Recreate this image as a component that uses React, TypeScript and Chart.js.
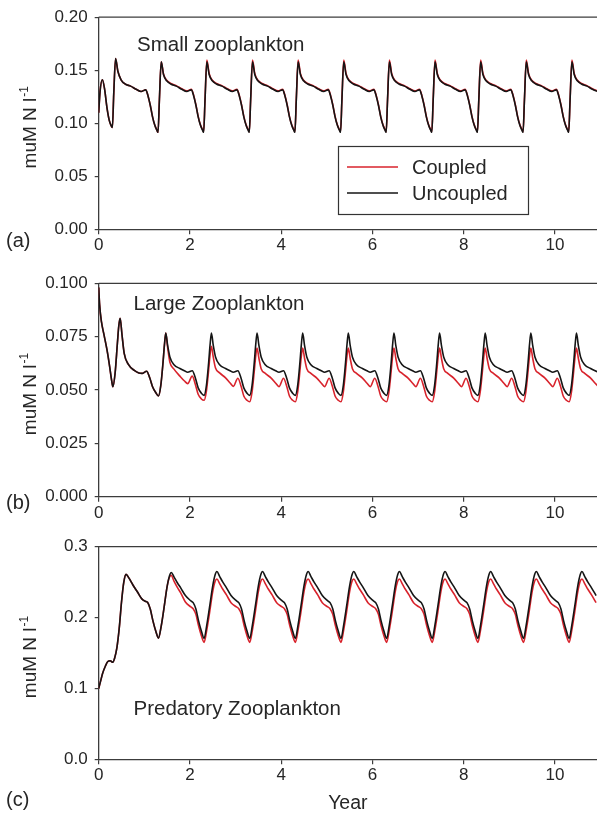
import React, { useEffect, useRef } from 'react';
import { Chart, registerables } from 'chart.js';

Chart.register(...registerables);

const FONT = "'Liberation Sans', Arial, Helvetica, sans-serif";
const RED = '#d8232c';
const BLACK = '#151515';
const AXIS = '#3c3c3c';
const TEXT = '#262626';

// ---------- labels ----------
const xTicks = [0, 2, 4, 6, 8, 10];
const xLabels = ['0', '2', '4', '6', '8', '10'];
const X_MAX = 10.92;
const yTicksA = [0, 0.05, 0.1, 0.15, 0.2];
const yLabelsA = ['0.00', '0.05', '0.10', '0.15', '0.20'];
const yTicksB = [0, 0.025, 0.05, 0.075, 0.1];
const yLabelsB = ['0.000', '0.025', '0.050', '0.075', '0.100'];
const yTicksC = [0, 0.1, 0.2, 0.3];
const yLabelsC = ['0.0', '0.1', '0.2', '0.3'];
const seriesNames = ['Coupled', 'Uncoupled'];
const panelTitles = ['Small zooplankton', 'Large Zooplankton', 'Predatory Zooplankton'];
const panelLetters = ['(a)', '(b)', '(c)'];
const xTitle = 'Year';
const yTitleMain = 'muM N l';
const yTitleSup = '-1';

// ---------- (a) small zooplankton ----------
const tSmall = [
  0, 0.03, 0.08, 0.13, 0.18, 0.23, 0.27, 0.30, 0.33, 0.37, 0.42, 0.49, 0.58, 0.70, 0.82, 0.93,
  1.03, 1.08, 1.13, 1.18, 1.23, 1.27, 1.30, 1.33, 1.37, 1.42, 1.49, 1.58, 1.70, 1.82, 1.93,
  2.03, 2.08, 2.13, 2.18, 2.23, 2.27, 2.30, 2.33, 2.37, 2.42, 2.49, 2.58, 2.70, 2.82, 2.93,
  3.03, 3.08, 3.13, 3.18, 3.23, 3.27, 3.30, 3.33, 3.37, 3.42, 3.49, 3.58, 3.70, 3.82, 3.93,
  4.03, 4.08, 4.13, 4.18, 4.23, 4.27, 4.30, 4.33, 4.37, 4.42, 4.49, 4.58, 4.70, 4.82, 4.93,
  5.03, 5.08, 5.13, 5.18, 5.23, 5.27, 5.30, 5.33, 5.37, 5.42, 5.49, 5.58, 5.70, 5.82, 5.93,
  6.03, 6.08, 6.13, 6.18, 6.23, 6.27, 6.30, 6.33, 6.37, 6.42, 6.49, 6.58, 6.70, 6.82, 6.93,
  7.03, 7.08, 7.13, 7.18, 7.23, 7.27, 7.30, 7.33, 7.37, 7.42, 7.49, 7.58, 7.70, 7.82, 7.93,
  8.03, 8.08, 8.13, 8.18, 8.23, 8.27, 8.30, 8.33, 8.37, 8.42, 8.49, 8.58, 8.70, 8.82, 8.93,
  9.03, 9.08, 9.13, 9.18, 9.23, 9.27, 9.30, 9.33, 9.37, 9.42, 9.49, 9.58, 9.70, 9.82, 9.93,
  10.03, 10.08, 10.13, 10.18, 10.23, 10.27, 10.30, 10.33, 10.37, 10.42, 10.49, 10.58, 10.70, 10.82, 10.93,
];
const smallUncoupled = [
  0.110, 0.130, 0.141, 0.132, 0.115, 0.103, 0.098, 0.096, 0.128, 0.161, 0.149, 0.141, 0.137, 0.135, 0.132, 0.130,
  0.1315, 0.126, 0.117, 0.106, 0.098, 0.094, 0.0915, 0.122, 0.158, 0.146, 0.140, 0.137, 0.135, 0.132, 0.130,
  0.1315, 0.126, 0.117, 0.106, 0.098, 0.094, 0.0915, 0.122, 0.158, 0.146, 0.140, 0.137, 0.135, 0.132, 0.130,
  0.1315, 0.126, 0.117, 0.106, 0.098, 0.094, 0.0915, 0.122, 0.158, 0.146, 0.140, 0.137, 0.135, 0.132, 0.130,
  0.1315, 0.126, 0.117, 0.106, 0.098, 0.094, 0.0915, 0.122, 0.158, 0.146, 0.140, 0.137, 0.135, 0.132, 0.130,
  0.1315, 0.126, 0.117, 0.106, 0.098, 0.094, 0.0915, 0.122, 0.158, 0.146, 0.140, 0.137, 0.135, 0.132, 0.130,
  0.1315, 0.126, 0.117, 0.106, 0.098, 0.094, 0.0915, 0.122, 0.158, 0.146, 0.140, 0.137, 0.135, 0.132, 0.130,
  0.1315, 0.126, 0.117, 0.106, 0.098, 0.094, 0.0915, 0.122, 0.158, 0.146, 0.140, 0.137, 0.135, 0.132, 0.130,
  0.1315, 0.126, 0.117, 0.106, 0.098, 0.094, 0.0915, 0.122, 0.158, 0.146, 0.140, 0.137, 0.135, 0.132, 0.130,
  0.1315, 0.126, 0.117, 0.106, 0.098, 0.094, 0.0915, 0.122, 0.158, 0.146, 0.140, 0.137, 0.135, 0.132, 0.130,
  0.1315, 0.126, 0.117, 0.106, 0.098, 0.094, 0.0915, 0.122, 0.158, 0.146, 0.140, 0.137, 0.135, 0.132, 0.130,
];
const smallCoupled = [
  0.110, 0.130, 0.141, 0.132, 0.115, 0.103, 0.098, 0.096, 0.128, 0.161, 0.149, 0.141, 0.137, 0.135, 0.132, 0.130,
  0.1315, 0.126, 0.117, 0.106, 0.098, 0.094, 0.0915, 0.122, 0.158, 0.1465, 0.1405, 0.1375, 0.1355, 0.1325, 0.1305,
  0.132, 0.1265, 0.1175, 0.1065, 0.0985, 0.0945, 0.092, 0.1225, 0.1595, 0.147, 0.1405, 0.1375, 0.1355, 0.1325, 0.1305,
  0.132, 0.1265, 0.1175, 0.1065, 0.0985, 0.0945, 0.092, 0.1225, 0.1595, 0.147, 0.1405, 0.1375, 0.1355, 0.1325, 0.1305,
  0.132, 0.1265, 0.1175, 0.1065, 0.0985, 0.0945, 0.092, 0.1225, 0.1595, 0.147, 0.1405, 0.1375, 0.1355, 0.1325, 0.1305,
  0.132, 0.1265, 0.1175, 0.1065, 0.0985, 0.0945, 0.092, 0.1225, 0.1595, 0.147, 0.1405, 0.1375, 0.1355, 0.1325, 0.1305,
  0.132, 0.1265, 0.1175, 0.1065, 0.0985, 0.0945, 0.092, 0.1225, 0.1595, 0.147, 0.1405, 0.1375, 0.1355, 0.1325, 0.1305,
  0.132, 0.1265, 0.1175, 0.1065, 0.0985, 0.0945, 0.092, 0.1225, 0.1595, 0.147, 0.1405, 0.1375, 0.1355, 0.1325, 0.1305,
  0.132, 0.1265, 0.1175, 0.1065, 0.0985, 0.0945, 0.092, 0.1225, 0.1595, 0.147, 0.1405, 0.1375, 0.1355, 0.1325, 0.1305,
  0.132, 0.1265, 0.1175, 0.1065, 0.0985, 0.0945, 0.092, 0.1225, 0.1595, 0.147, 0.1405, 0.1375, 0.1355, 0.1325, 0.1305,
  0.132, 0.1265, 0.1175, 0.1065, 0.0985, 0.0945, 0.092, 0.1225, 0.1595, 0.147, 0.1405, 0.1375, 0.1355, 0.1325, 0.1305,
];

// ---------- (b) large zooplankton ----------
const tLarge = [
  0, 0.02, 0.06, 0.12, 0.18, 0.24, 0.28, 0.31, 0.36, 0.41, 0.44, 0.47, 0.51, 0.56, 0.65, 0.78, 0.88, 0.95,
  1.05, 1.12, 1.18, 1.25, 1.31, 1.36, 1.41, 1.44, 1.47, 1.51, 1.56, 1.65, 1.78, 1.88, 1.95,
  2.05, 2.12, 2.18, 2.25, 2.31, 2.36, 2.41, 2.44, 2.47, 2.51, 2.56, 2.65, 2.78, 2.88, 2.95,
  3.05, 3.12, 3.18, 3.25, 3.31, 3.36, 3.41, 3.44, 3.47, 3.51, 3.56, 3.65, 3.78, 3.88, 3.95,
  4.05, 4.12, 4.18, 4.25, 4.31, 4.36, 4.41, 4.44, 4.47, 4.51, 4.56, 4.65, 4.78, 4.88, 4.95,
  5.05, 5.12, 5.18, 5.25, 5.31, 5.36, 5.41, 5.44, 5.47, 5.51, 5.56, 5.65, 5.78, 5.88, 5.95,
  6.05, 6.12, 6.18, 6.25, 6.31, 6.36, 6.41, 6.44, 6.47, 6.51, 6.56, 6.65, 6.78, 6.88, 6.95,
  7.05, 7.12, 7.18, 7.25, 7.31, 7.36, 7.41, 7.44, 7.47, 7.51, 7.56, 7.65, 7.78, 7.88, 7.95,
  8.05, 8.12, 8.18, 8.25, 8.31, 8.36, 8.41, 8.44, 8.47, 8.51, 8.56, 8.65, 8.78, 8.88, 8.95,
  9.05, 9.12, 9.18, 9.25, 9.31, 9.36, 9.41, 9.44, 9.47, 9.51, 9.56, 9.65, 9.78, 9.88, 9.95,
  10.05, 10.12, 10.18, 10.25, 10.31, 10.36, 10.41, 10.44, 10.47, 10.51, 10.56, 10.65, 10.78, 10.88, 10.95,
];
const largeUncoupled = [
  0.0980, 0.0900, 0.0820, 0.0755, 0.0690, 0.0610, 0.0550, 0.0515, 0.0580, 0.0720, 0.0800, 0.0836, 0.0760, 0.0670, 0.0620, 0.0592, 0.0580, 0.0578,
  0.0588, 0.0556, 0.0515, 0.0488, 0.0472, 0.0520, 0.0630, 0.0710, 0.0767, 0.0710, 0.0655, 0.0618, 0.0601, 0.0590, 0.0583,
  0.0590, 0.0555, 0.0510, 0.0485, 0.0475, 0.0520, 0.0630, 0.0710, 0.0767, 0.0710, 0.0655, 0.0618, 0.0601, 0.0590, 0.0583,
  0.0590, 0.0555, 0.0510, 0.0485, 0.0475, 0.0520, 0.0630, 0.0710, 0.0767, 0.0710, 0.0655, 0.0618, 0.0601, 0.0590, 0.0583,
  0.0590, 0.0555, 0.0510, 0.0485, 0.0475, 0.0520, 0.0630, 0.0710, 0.0767, 0.0710, 0.0655, 0.0618, 0.0601, 0.0590, 0.0583,
  0.0590, 0.0555, 0.0510, 0.0485, 0.0475, 0.0520, 0.0630, 0.0710, 0.0767, 0.0710, 0.0655, 0.0618, 0.0601, 0.0590, 0.0583,
  0.0590, 0.0555, 0.0510, 0.0485, 0.0475, 0.0520, 0.0630, 0.0710, 0.0767, 0.0710, 0.0655, 0.0618, 0.0601, 0.0590, 0.0583,
  0.0590, 0.0555, 0.0510, 0.0485, 0.0475, 0.0520, 0.0630, 0.0710, 0.0767, 0.0710, 0.0655, 0.0618, 0.0601, 0.0590, 0.0583,
  0.0590, 0.0555, 0.0510, 0.0485, 0.0475, 0.0520, 0.0630, 0.0710, 0.0767, 0.0710, 0.0655, 0.0618, 0.0601, 0.0590, 0.0583,
  0.0590, 0.0555, 0.0510, 0.0485, 0.0475, 0.0520, 0.0630, 0.0710, 0.0767, 0.0710, 0.0655, 0.0618, 0.0601, 0.0590, 0.0583,
  0.0590, 0.0555, 0.0510, 0.0485, 0.0475, 0.0520, 0.0630, 0.0710, 0.0767, 0.0710, 0.0655, 0.0618, 0.0601, 0.0590, 0.0583,
];
const largeCoupled = [
  0.0980, 0.0900, 0.0820, 0.0755, 0.0690, 0.0610, 0.0550, 0.0515, 0.0580, 0.0720, 0.0800, 0.0836, 0.0760, 0.0670, 0.0620, 0.0592, 0.0580, 0.0578,
  0.0588, 0.0556, 0.0515, 0.0488, 0.0472, 0.0520, 0.0630, 0.0710, 0.0767, 0.0700, 0.0630, 0.0598, 0.0565, 0.0542, 0.0530,
  0.0565, 0.0525, 0.0480, 0.0458, 0.0452, 0.0495, 0.0595, 0.0665, 0.0705, 0.0655, 0.0603, 0.0580, 0.0557, 0.0533, 0.0517,
  0.0555, 0.0518, 0.0472, 0.0452, 0.0445, 0.0490, 0.0590, 0.0658, 0.0697, 0.0650, 0.0600, 0.0578, 0.0556, 0.0532, 0.0516,
  0.0555, 0.0518, 0.0472, 0.0452, 0.0445, 0.0490, 0.0590, 0.0658, 0.0697, 0.0650, 0.0600, 0.0578, 0.0556, 0.0532, 0.0516,
  0.0555, 0.0518, 0.0472, 0.0452, 0.0445, 0.0490, 0.0590, 0.0658, 0.0697, 0.0650, 0.0600, 0.0578, 0.0556, 0.0532, 0.0516,
  0.0555, 0.0518, 0.0472, 0.0452, 0.0445, 0.0490, 0.0590, 0.0658, 0.0697, 0.0650, 0.0600, 0.0578, 0.0556, 0.0532, 0.0516,
  0.0555, 0.0518, 0.0472, 0.0452, 0.0445, 0.0490, 0.0590, 0.0658, 0.0697, 0.0650, 0.0600, 0.0578, 0.0556, 0.0532, 0.0516,
  0.0555, 0.0518, 0.0472, 0.0452, 0.0445, 0.0490, 0.0590, 0.0658, 0.0697, 0.0650, 0.0600, 0.0578, 0.0556, 0.0532, 0.0516,
  0.0555, 0.0518, 0.0472, 0.0452, 0.0445, 0.0490, 0.0590, 0.0658, 0.0697, 0.0650, 0.0600, 0.0578, 0.0556, 0.0532, 0.0516,
  0.0555, 0.0518, 0.0472, 0.0452, 0.0445, 0.0490, 0.0590, 0.0658, 0.0697, 0.0650, 0.0600, 0.0578, 0.0556, 0.0532, 0.0516,
];

// ---------- (c) predatory zooplankton ----------
const tPred = [
  0, 0.04, 0.09, 0.15, 0.20, 0.25, 0.31, 0.35, 0.40, 0.45, 0.50, 0.55, 0.60, 0.66, 0.75, 0.85, 0.95,
  1.02, 1.07, 1.13, 1.19, 1.25, 1.31, 1.37, 1.43, 1.50, 1.55, 1.59, 1.65, 1.72, 1.80, 1.90,
  2.02, 2.07, 2.13, 2.19, 2.25, 2.31, 2.37, 2.43, 2.50, 2.55, 2.59, 2.65, 2.72, 2.80, 2.90,
  3.02, 3.07, 3.13, 3.19, 3.25, 3.31, 3.37, 3.43, 3.50, 3.55, 3.59, 3.65, 3.72, 3.80, 3.90,
  4.02, 4.07, 4.13, 4.19, 4.25, 4.31, 4.37, 4.43, 4.50, 4.55, 4.59, 4.65, 4.72, 4.80, 4.90,
  5.02, 5.07, 5.13, 5.19, 5.25, 5.31, 5.37, 5.43, 5.50, 5.55, 5.59, 5.65, 5.72, 5.80, 5.90,
  6.02, 6.07, 6.13, 6.19, 6.25, 6.31, 6.37, 6.43, 6.50, 6.55, 6.59, 6.65, 6.72, 6.80, 6.90,
  7.02, 7.07, 7.13, 7.19, 7.25, 7.31, 7.37, 7.43, 7.50, 7.55, 7.59, 7.65, 7.72, 7.80, 7.90,
  8.02, 8.07, 8.13, 8.19, 8.25, 8.31, 8.37, 8.43, 8.50, 8.55, 8.59, 8.65, 8.72, 8.80, 8.90,
  9.02, 9.07, 9.13, 9.19, 9.25, 9.31, 9.37, 9.43, 9.50, 9.55, 9.59, 9.65, 9.72, 9.80, 9.90,
  10.02, 10.07, 10.13, 10.19, 10.25, 10.31, 10.37, 10.43, 10.50, 10.55, 10.59, 10.65, 10.72, 10.80, 10.90,
];
const predUncoupled = [
  0.100, 0.110, 0.122, 0.132, 0.138, 0.139, 0.137, 0.143, 0.158, 0.185, 0.222, 0.250, 0.261, 0.256, 0.246, 0.236, 0.226,
  0.2230, 0.2215, 0.2120, 0.1950, 0.1810, 0.1710, 0.1880, 0.2130, 0.2440, 0.2585, 0.2635, 0.2575, 0.2495, 0.2415, 0.2310,
  0.2235, 0.2210, 0.2120, 0.1950, 0.1810, 0.1707, 0.1900, 0.2150, 0.2450, 0.2600, 0.2650, 0.2580, 0.2500, 0.2420, 0.2310,
  0.2235, 0.2210, 0.2120, 0.1950, 0.1810, 0.1707, 0.1900, 0.2150, 0.2450, 0.2600, 0.2650, 0.2580, 0.2500, 0.2420, 0.2310,
  0.2235, 0.2210, 0.2120, 0.1950, 0.1810, 0.1707, 0.1900, 0.2150, 0.2450, 0.2600, 0.2650, 0.2580, 0.2500, 0.2420, 0.2310,
  0.2235, 0.2210, 0.2120, 0.1950, 0.1810, 0.1707, 0.1900, 0.2150, 0.2450, 0.2600, 0.2650, 0.2580, 0.2500, 0.2420, 0.2310,
  0.2235, 0.2210, 0.2120, 0.1950, 0.1810, 0.1707, 0.1900, 0.2150, 0.2450, 0.2600, 0.2650, 0.2580, 0.2500, 0.2420, 0.2310,
  0.2235, 0.2210, 0.2120, 0.1950, 0.1810, 0.1707, 0.1900, 0.2150, 0.2450, 0.2600, 0.2650, 0.2580, 0.2500, 0.2420, 0.2310,
  0.2235, 0.2210, 0.2120, 0.1950, 0.1810, 0.1707, 0.1900, 0.2150, 0.2450, 0.2600, 0.2650, 0.2580, 0.2500, 0.2420, 0.2310,
  0.2235, 0.2210, 0.2120, 0.1950, 0.1810, 0.1707, 0.1900, 0.2150, 0.2450, 0.2600, 0.2650, 0.2580, 0.2500, 0.2420, 0.2310,
  0.2235, 0.2210, 0.2120, 0.1950, 0.1810, 0.1707, 0.1900, 0.2150, 0.2450, 0.2600, 0.2650, 0.2580, 0.2500, 0.2420, 0.2310,
];
const predCoupled = [
  0.100, 0.110, 0.122, 0.132, 0.138, 0.139, 0.137, 0.143, 0.158, 0.185, 0.222, 0.250, 0.261, 0.256, 0.246, 0.236, 0.226,
  0.2230, 0.2215, 0.2120, 0.1950, 0.1810, 0.1710, 0.1880, 0.2130, 0.2440, 0.2570, 0.2595, 0.2515, 0.2430, 0.2345, 0.2220,
  0.2150, 0.2125, 0.2045, 0.1880, 0.1745, 0.1650, 0.1830, 0.2070, 0.2370, 0.2510, 0.2545, 0.2480, 0.2400, 0.2320, 0.2210,
  0.2150, 0.2125, 0.2045, 0.1880, 0.1745, 0.1650, 0.1830, 0.2070, 0.2370, 0.2510, 0.2545, 0.2480, 0.2400, 0.2320, 0.2210,
  0.2150, 0.2125, 0.2045, 0.1880, 0.1745, 0.1650, 0.1830, 0.2070, 0.2370, 0.2510, 0.2545, 0.2480, 0.2400, 0.2320, 0.2210,
  0.2150, 0.2125, 0.2045, 0.1880, 0.1745, 0.1650, 0.1830, 0.2070, 0.2370, 0.2510, 0.2545, 0.2480, 0.2400, 0.2320, 0.2210,
  0.2150, 0.2125, 0.2045, 0.1880, 0.1745, 0.1650, 0.1830, 0.2070, 0.2370, 0.2510, 0.2545, 0.2480, 0.2400, 0.2320, 0.2210,
  0.2150, 0.2125, 0.2045, 0.1880, 0.1745, 0.1650, 0.1830, 0.2070, 0.2370, 0.2510, 0.2545, 0.2480, 0.2400, 0.2320, 0.2210,
  0.2150, 0.2125, 0.2045, 0.1880, 0.1745, 0.1650, 0.1830, 0.2070, 0.2370, 0.2510, 0.2545, 0.2480, 0.2400, 0.2320, 0.2210,
  0.2150, 0.2125, 0.2045, 0.1880, 0.1745, 0.1650, 0.1830, 0.2070, 0.2370, 0.2510, 0.2545, 0.2480, 0.2400, 0.2320, 0.2210,
  0.2150, 0.2125, 0.2045, 0.1880, 0.1745, 0.1650, 0.1830, 0.2070, 0.2370, 0.2510, 0.2545, 0.2480, 0.2400, 0.2320, 0.2210,
];

type Panel = {
  t: number[];
  coupled: number[];
  uncoupled: number[];
  yMax: number;
  yTicks: number[];
  yLabels: string[];
  title: string;
  letter: string;
  top: number;
  height: number;
  padTop: number;
  xAxisH: number;
  titleX: number;
  titleY: number;
  letterY: number;
  legend: boolean;
  showXTitle: boolean;
};

const panels: Panel[] = [
  {
    t: tSmall, coupled: smallCoupled, uncoupled: smallUncoupled, yMax: 0.2,
    yTicks: yTicksA, yLabels: yLabelsA, title: panelTitles[0], letter: panelLetters[0],
    top: 0, height: 262, padTop: 16, xAxisH: 32.7, titleX: 137, titleY: 50.5, letterY: 246.5,
    legend: true, showXTitle: false,
  },
  {
    t: tLarge, coupled: largeCoupled, uncoupled: largeUncoupled, yMax: 0.1,
    yTicks: yTicksB, yLabels: yLabelsB, title: panelTitles[1], letter: panelLetters[1],
    top: 262, height: 263, padTop: 21.3, xAxisH: 28.3, titleX: 133.5, titleY: 47.5, letterY: 247,
    legend: false, showXTitle: false,
  },
  {
    t: tPred, coupled: predCoupled, uncoupled: predUncoupled, yMax: 0.3,
    yTicks: yTicksC, yLabels: yLabelsC, title: panelTitles[2], letter: panelLetters[2],
    top: 525, height: 289, padTop: 21.7, xAxisH: 54.7, titleX: 133.5, titleY: 190, letterY: 281,
    legend: false, showXTitle: true,
  },
];

function decorPlugin(p: Panel) {
  return {
    id: 'panelDecor',
    afterDraw(chart: any) {
      const { ctx, chartArea: a } = chart;
      ctx.save();
      // top frame line
      ctx.strokeStyle = AXIS;
      ctx.lineWidth = 1.3;
      ctx.beginPath();
      ctx.moveTo(a.left, a.top);
      ctx.lineTo(a.right, a.top);
      ctx.stroke();

      ctx.fillStyle = TEXT;
      ctx.textAlign = 'left';
      ctx.textBaseline = 'alphabetic';
      ctx.font = `20.5px ${FONT}`;
      ctx.fillText(p.title, p.titleX, p.titleY);
      ctx.font = `20px ${FONT}`;
      ctx.fillText(p.letter, 6, p.letterY);

      // y axis title with superscript
      ctx.save();
      ctx.translate(35.5, (a.top + a.bottom) / 2 + 4);
      ctx.rotate(-Math.PI / 2);
      ctx.font = `19px ${FONT}`;
      const w1 = ctx.measureText(yTitleMain).width;
      ctx.font = `12px ${FONT}`;
      const w2 = ctx.measureText(yTitleSup).width;
      const start = -(w1 + 1 + w2) / 2;
      ctx.font = `19px ${FONT}`;
      ctx.fillText(yTitleMain, start, 0);
      ctx.font = `12px ${FONT}`;
      ctx.fillText(yTitleSup, start + w1 + 1, -7.5);
      ctx.restore();

      if (p.showXTitle) {
        ctx.textAlign = 'center';
        ctx.font = `19.5px ${FONT}`;
        ctx.fillText(xTitle, (a.left + a.right) / 2, 284);
      }

      if (p.legend) {
        ctx.fillStyle = '#ffffff';
        ctx.fillRect(338.5, 146.5, 190, 68);
        ctx.strokeStyle = '#333333';
        ctx.lineWidth = 1.2;
        ctx.strokeRect(338.5, 146.5, 190, 68);
        const rows = [
          { name: seriesNames[0], color: RED, y: 167 },
          { name: seriesNames[1], color: BLACK, y: 193 },
        ];
        ctx.textAlign = 'left';
        ctx.font = `20px ${FONT}`;
        for (const r of rows) {
          ctx.strokeStyle = r.color;
          ctx.lineWidth = 1.5;
          ctx.beginPath();
          ctx.moveTo(347, r.y);
          ctx.lineTo(398, r.y);
          ctx.stroke();
          ctx.fillStyle = TEXT;
          ctx.fillText(r.name, 412, r.y + 7.3);
        }
      }
      ctx.restore();
    },
  };
}

function makeConfig(p: Panel): any {
  const pts = (vals: number[]) => p.t.map((x, i) => ({ x, y: vals[i] }));
  return {
    type: 'line',
    data: {
      datasets: [
        {
          label: seriesNames[1],
          data: pts(p.uncoupled),
          borderColor: BLACK,
          borderWidth: 1.6,
          pointRadius: 0,
          cubicInterpolationMode: 'monotone',
          fill: false,
          order: 0,
        },
        {
          label: seriesNames[0],
          data: pts(p.coupled),
          borderColor: RED,
          borderWidth: 1.6,
          pointRadius: 0,
          cubicInterpolationMode: 'monotone',
          fill: false,
          order: 1,
        },
      ],
    },
    options: {
      responsive: false,
      animation: false,
      events: [],
      layout: { padding: { top: p.padTop, left: 0, right: 0, bottom: 0 } },
      plugins: {
        legend: { display: false },
        tooltip: { enabled: false },
        title: { display: false },
      },
      scales: {
        x: {
          type: 'linear',
          min: 0,
          max: X_MAX,
          afterBuildTicks: (s: any) => {
            s.ticks = xTicks.map((v) => ({ value: v }));
          },
          afterFit: (s: any) => {
            s.height = p.xAxisH;
          },
          ticks: {
            callback: (_v: any, i: number) => xLabels[i],
            font: { size: 17, family: FONT },
            color: TEXT,
            padding: 1,
            maxRotation: 0,
            autoSkip: false,
          },
          grid: { drawOnChartArea: false, drawTicks: true, tickLength: 5, color: AXIS, lineWidth: 1.2 },
          border: { display: true, color: AXIS, width: 1.3 },
        },
        y: {
          type: 'linear',
          min: 0,
          max: p.yMax,
          afterBuildTicks: (s: any) => {
            s.ticks = p.yTicks.map((v) => ({ value: v }));
          },
          afterFit: (s: any) => {
            s.width = 98.7;
          },
          ticks: {
            callback: (_v: any, i: number) => p.yLabels[i],
            font: { size: 17, family: FONT },
            color: TEXT,
            padding: 7,
            autoSkip: false,
          },
          grid: { drawOnChartArea: false, drawTicks: true, tickLength: 4, color: AXIS, lineWidth: 1.2 },
          border: { display: true, color: AXIS, width: 1.3 },
        },
      },
    },
    plugins: [decorPlugin(p)],
  };
}

function PanelChart({ p }: { p: Panel }) {
  const ref = useRef<HTMLCanvasElement | null>(null);
  useEffect(() => {
    if (!ref.current) return;
    const chart = new Chart(ref.current, makeConfig(p));
    return () => chart.destroy();
  }, [p]);
  return (
    <canvas
      ref={ref}
      width={597}
      height={p.height}
      style={{ position: 'absolute', left: 0, top: p.top, width: 597, height: p.height, display: 'block' }}
    />
  );
}

export default function App() {
  useEffect(() => {
    document.body.style.margin = '0';
    document.body.style.background = '#ffffff';
    document.body.style.overflow = 'hidden';
  }, []);
  return (
    <div style={{ position: 'relative', width: 597, height: 814, background: '#ffffff', overflow: 'hidden' }}>
      {panels.map((p, i) => (
        <PanelChart key={i} p={p} />
      ))}
    </div>
  );
}
